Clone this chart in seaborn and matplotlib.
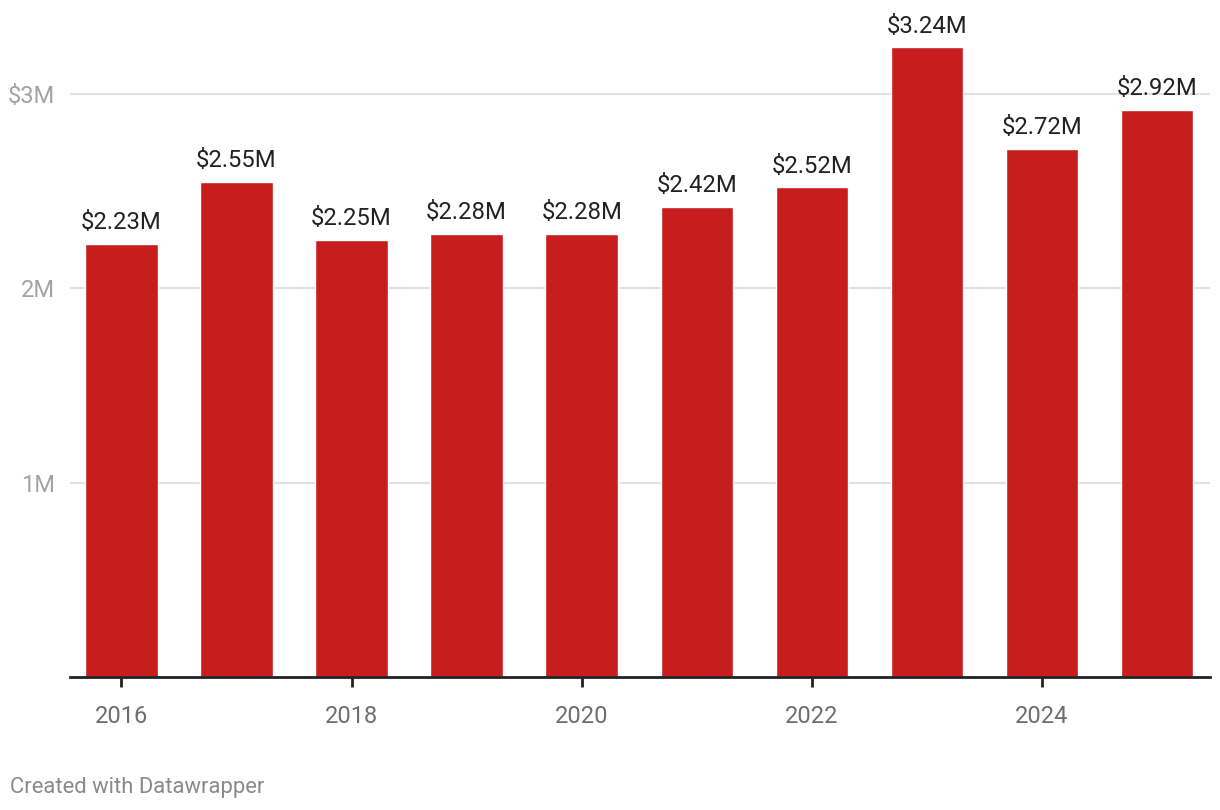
import matplotlib
matplotlib.use("Agg")
import matplotlib.pyplot as plt
import seaborn as sns
import pandas as pd

# data
years = [2016, 2017, 2018, 2019, 2020, 2021, 2022, 2023, 2024, 2025]
values = [2.23, 2.55, 2.25, 2.28, 2.28, 2.42, 2.52, 3.24, 2.72, 2.92]
y_ticks = [1, 2, 3]
y_tick_labels = ["1M", "2M", "$3M"]
x_tick_years = [2016, 2018, 2020, 2022, 2024]

df = pd.DataFrame({"year": [str(y) for y in years], "value": values})

sns.set_style("white")
plt.rcParams["font.family"] = ["Roboto", "DejaVu Sans"]

fig = plt.figure(figsize=(12.2, 8.1), dpi=100)
ax = fig.add_axes([70 / 1220, 1 - 677 / 810, 1140 / 1220, 647 / 810])

sns.barplot(data=df, x="year", y="value", color="#c71e1d", saturation=1,
            width=0.63, ax=ax, zorder=3)

ax.set_xlim(-0.447, 9.46)
ax.set_ylim(0, 647 / 194.3)

# value labels
for i, v in enumerate(values):
    ax.annotate(f"${v:.2f}M", (i, v), xytext=(0, 7), textcoords="offset points",
                ha="center", va="bottom", fontsize=17.2, color="#222222")

# grid / y axis
ax.set_yticks(y_ticks)
ax.set_yticklabels(y_tick_labels)
ax.yaxis.grid(True, color="#e2e2e2", linewidth=1.5, zorder=0)
ax.tick_params(axis="y", length=0, pad=11, labelsize=17, labelcolor="#a3a3a3")

# x axis
xt = [years.index(y) for y in x_tick_years]
ax.set_xticks(xt)
ax.set_xticklabels([str(y) for y in x_tick_years])
ax.tick_params(axis="x", bottom=True, length=7, width=2, color="#222222", pad=13,
               labelsize=17, labelcolor="#6e6e6e")

for side in ["top", "right", "left"]:
    ax.spines[side].set_visible(False)
ax.spines["bottom"].set_color("#222222")
ax.spines["bottom"].set_linewidth(2)
ax.spines["bottom"].set_zorder(4)

ax.set_xlabel("")
ax.set_ylabel("")

fig.text(10 / 1220, 1 - 787 / 810, "Created with Datawrapper", fontsize=15.8,
         color="#8a8a8a", ha="left", va="center")

fig.savefig("out.png", dpi=100)
